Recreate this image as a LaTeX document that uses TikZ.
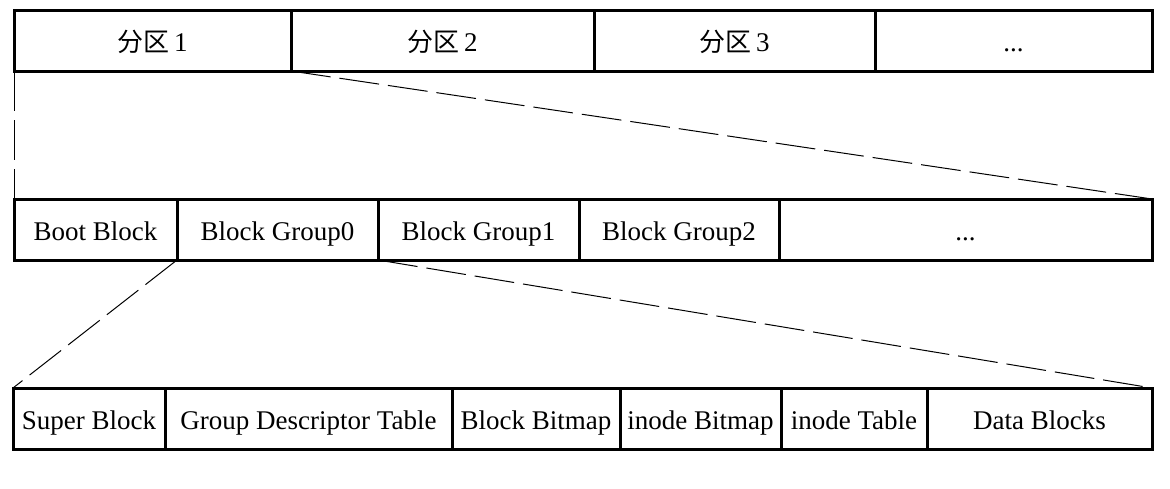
\documentclass[tikz,border=0pt]{standalone}
\usepackage{fontspec}
\setmainfont{Liberation Serif}
\newfontfamily\cjk{Noto Sans CJK SC}
\usetikzlibrary{positioning}
\tikzset{
  cell/.style={draw, line width=3pt, outer sep=0pt, inner sep=0pt,
    minimum height=61pt, text height=24pt, text depth=2pt,
    font=\fontsize{27}{30}\selectfont},
  zoomline/.style={line width=1pt, dash pattern=on 40pt off 9pt},
}
\newcommand{\fenqu}[1]{{\cjk\fontsize{26}{30}\selectfont 分区}\,#1}
\begin{document}
\begin{tikzpicture}[x=1pt, y=-1pt]
\useasboundingbox (0,0) rectangle (1170,488);
% disk partitions
\node[cell, minimum width=277pt, anchor=west] (p1) at (14,40.5) {\fenqu{1}};
\node[cell, minimum width=303pt, right=0pt of p1] (p2) {\fenqu{2}};
\node[cell, minimum width=281pt, right=0pt of p2] (p3) {\fenqu{3}};
\node[cell, minimum width=277pt, right=0pt of p3] (p4) {...};
% partition layout
\node[cell, minimum width=163pt, anchor=west] (boot) at (14,229.5) {Boot Block};
\node[cell, minimum width=201pt, right=0pt of boot] (g0) {Block Group0};
\node[cell, minimum width=201pt, right=0pt of g0] (g1) {Block Group1};
\node[cell, minimum width=200pt, right=0pt of g1] (g2) {Block Group2};
\node[cell, minimum width=373pt, right=0pt of g2] (gx) {...};
% block group layout
\node[cell, minimum width=152pt, anchor=west] (sb) at (13,418.5) {Super Block};
\node[cell, minimum width=287pt, right=0pt of sb] (gdt) {Group Descriptor Table};
\node[cell, minimum width=168pt, right=0pt of gdt] (bbm) {Block Bitmap};
\node[cell, minimum width=161pt, right=0pt of bbm] (ibm) {inode Bitmap};
\node[cell, minimum width=146pt, right=0pt of ibm] (itab) {inode Table};
\node[cell, minimum width=225pt, right=0pt of itab] (data) {Data Blocks};
% zoom lines
\draw[zoomline] (p1.south west) -- (boot.north west);
\draw[zoomline] (p2.south west) -- (gx.north east);
\draw[zoomline] (g0.south west) -- (sb.north west);
\draw[zoomline] (g1.south west) -- (data.north east);
\end{tikzpicture}
\end{document}
